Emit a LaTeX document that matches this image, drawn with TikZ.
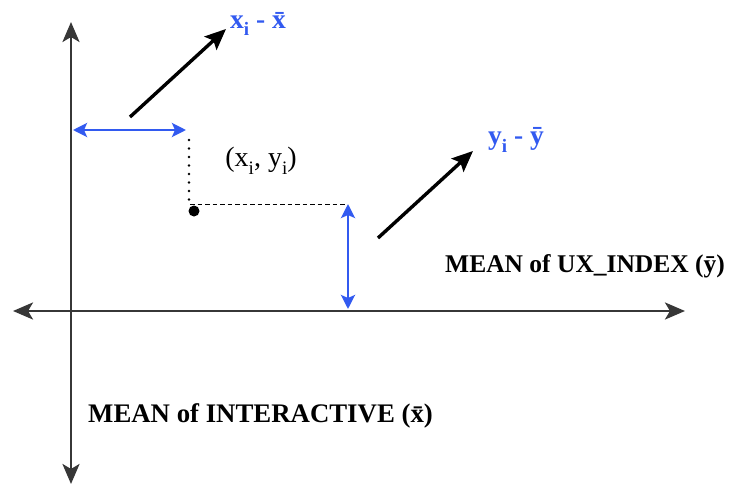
\documentclass[tikz,border=0pt]{standalone}
\usepackage{fontspec}
\setmainfont{Liberation Serif}
\usetikzlibrary{arrows.meta}
\definecolor{axisgray}{RGB}{55,55,55}
\definecolor{dblue}{RGB}{50,90,240}
\newcommand{\mysub}[1]{\raisebox{-0.28em}{\fontsize{19}{20}\selectfont #1}}
\tikzset{
  axis/.style={axisgray,line width=2.8pt,-{Stealth[length=20pt,width=17pt,inset=5pt]}},
  darr/.style={black,line width=3.4pt,-{Stealth[length=21pt,width=18pt,inset=4pt]}},
  barr/.style={dblue,line width=2.8pt,{Stealth[length=14pt,width=14pt,inset=3pt]}-{Stealth[length=14pt,width=14pt,inset=3pt]}},
  blab/.style={dblue,font=\fontsize{27.5}{30}\selectfont\bfseries,inner sep=0pt},
  mlab/.style={black,font=\fontsize{26.5}{30}\selectfont\bfseries,inner sep=0pt},
}
\begin{document}
\begin{tikzpicture}[x=1pt,y=-1pt]
\useasboundingbox (0,0) rectangle (740,485);
% axes
\coordinate (ycen) at (71,311);
\coordinate (ytop) at (71,22);
\coordinate (ybot) at (71,484);
\coordinate (xleft) at (13,311);
\coordinate (xright) at (685,311);
\draw[axis] (ycen) -- (ytop);
\draw[axis] (ycen) -- (ybot);
\draw[axis] (ycen) -- (xleft);
\draw[axis] (ycen) -- (xright);
% point
\node[circle,fill=black,inner sep=0pt,minimum size=11pt] (pt) at (194,211) {};
\coordinate (dtop) at (189,140);
\coordinate (dbot) at (189,204);
\draw[black,line width=2.8pt,line cap=round,dash pattern=on 0pt off 8.5pt] (dtop) -- (dbot);
\coordinate (hL) at (190,204);
\coordinate (hR) at (345,204);
\draw[black,line width=1pt,dash pattern=on 4.5pt off 3pt] (hL) -- (hR);
% blue double arrows
\coordinate (bh1) at (73,130);
\coordinate (bh2) at (186,130);
\draw[barr] (bh1) -- (bh2);
\coordinate (bv1) at (348,204);
\coordinate (bv2) at (348,309);
\draw[barr] (bv1) -- (bv2);
% black arrows
\coordinate (a1s) at (130,117);
\coordinate (a1e) at (226,29);
\draw[darr] (a1s) -- (a1e);
\coordinate (a2s) at (378,238);
\coordinate (a2e) at (473,151);
\draw[darr] (a2s) -- (a2e);
% labels
\node[blab,anchor=west] (lx) at (230,24) {x\mysub{i} - \={x}};
\node[blab,anchor=west] (ly) at (488,140) {y\mysub{i} - ȳ};
\node[black,font=\fontsize{28}{32}\selectfont,inner sep=0pt] (pl) at (261,161) {(x\mysub{i}, y\mysub{i})};
\node[mlab,font=\fontsize{25.5}{30}\selectfont\bfseries,anchor=west] (my) at (445,266) {MEAN of UX\_INDEX (ȳ)};
\node[mlab,font=\fontsize{26.8}{30}\selectfont\bfseries,anchor=west] (mx) at (88,416) {MEAN of INTERACTIVE (\={x})};
\end{tikzpicture}
\end{document}
